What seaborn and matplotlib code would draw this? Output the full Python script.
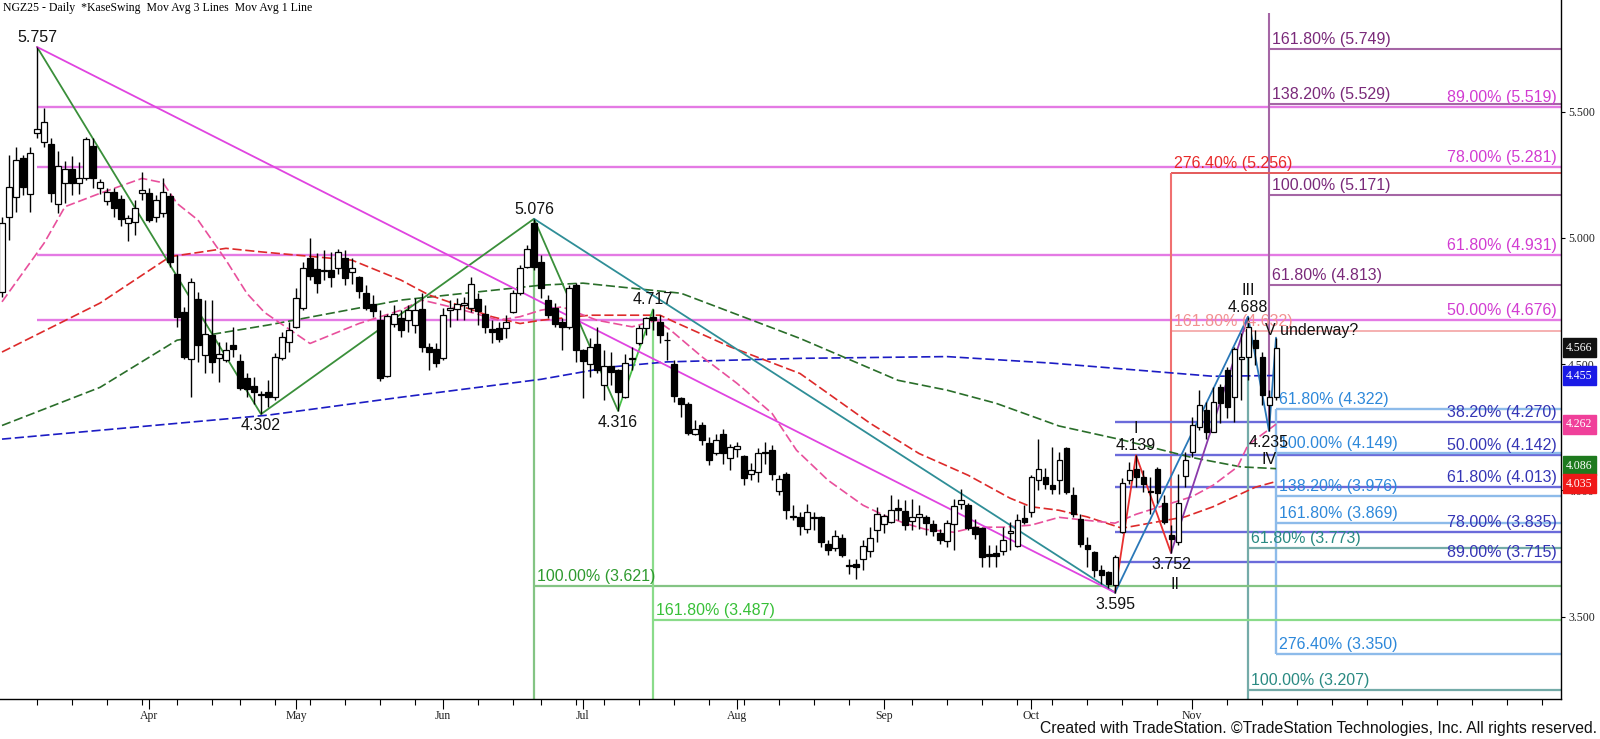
import matplotlib
matplotlib.use("Agg")
import matplotlib.pyplot as plt
import numpy as np
import pandas as pd
import seaborn as sns

# ---------------- data ----------------
SESSION_START = "2025-03-03"
SESSION_END = "2025-11-19"
HOLIDAYS = ["2025-04-18", "2025-05-26", "2025-06-19", "2025-07-04", "2025-09-01"]

opens = [4.787, 5.084, 5.163, 5.315, 5.174, 5.417, 5.382, 5.372, 5.133, 5.216,
         5.272, 5.216, 5.236, 5.364, 5.199, 5.148, 5.181, 5.154, 5.060, 5.064,
         5.179, 5.179, 5.084, 5.097, 5.167, 4.857, 4.707, 4.522, 4.760, 4.538,
         4.615, 4.526, 4.516, 4.575, 4.513, 4.446, 4.414, 4.380, 4.390, 4.371,
         4.523, 4.589, 4.648, 4.721, 4.922, 4.876, 4.873, 4.873, 4.880, 4.919,
         4.866, 4.847, 4.780, 4.738, 4.675, 4.454, 4.659, 4.681, 4.675, 4.655,
         4.718, 4.569, 4.562, 4.523, 4.714, 4.717, 4.734, 4.721, 4.758, 4.699,
         4.639, 4.642, 4.642, 4.708, 4.780, 4.886, 5.058, 4.904, 4.756, 4.721,
         4.668, 4.648, 4.813, 4.555, 4.499, 4.579, 4.417, 4.493, 4.476, 4.370,
         4.520, 4.582, 4.645, 4.688, 4.668, 4.596, 4.499, 4.366, 4.344, 4.225,
         4.258, 4.188, 4.146, 4.225, 4.130, 4.163, 4.135, 4.066, 4.073, 4.152,
         4.159, 3.998, 4.064, 3.898, 3.895, 3.848, 3.891, 3.895, 3.789, 3.773,
         3.813, 3.706, 3.707, 3.729, 3.760, 3.842, 3.868, 3.875, 3.932, 3.917,
         3.878, 3.895, 3.895, 3.868, 3.829, 3.800, 3.868, 3.944, 3.941, 3.855,
         3.851, 3.749, 3.752, 3.760, 3.829, 3.780, 3.891, 3.915, 4.040, 4.053,
         4.023, 4.040, 4.166, 3.981, 3.888, 3.782, 3.756, 3.683, 3.677, 3.624,
         3.835, 4.040, 4.086, 4.051, 3.996, 4.086, 3.951, 3.825, 3.796, 4.057,
         4.152, 4.251, 4.318, 4.232, 4.410, 4.476, 4.370, 4.522, 4.529, 4.595,
         4.528, 4.337, 4.369]
highs = [5.084, 5.329, 5.362, 5.329, 5.362, 5.757, 5.514, 5.395, 5.345, 5.306,
         5.325, 5.302, 5.399, 5.395, 5.234, 5.199, 5.197, 5.170, 5.093, 5.150,
         5.260, 5.197, 5.170, 5.236, 5.177, 4.932, 4.727, 4.840, 4.787, 4.754,
         4.754, 4.589, 4.589, 4.648, 4.542, 4.463, 4.450, 4.392, 4.437, 4.545,
         4.628, 4.668, 4.800, 4.906, 4.999, 4.939, 4.952, 4.946, 4.955, 4.952,
         4.919, 4.850, 4.813, 4.774, 4.714, 4.697, 4.734, 4.714, 4.734, 4.761,
         4.780, 4.582, 4.582, 4.721, 4.754, 4.761, 4.767, 4.847, 4.780, 4.734,
         4.675, 4.668, 4.694, 4.794, 4.893, 4.972, 5.076, 4.932, 4.774, 4.741,
         4.681, 4.813, 4.820, 4.560, 4.602, 4.648, 4.555, 4.549, 4.480, 4.542,
         4.569, 4.655, 4.688, 4.717, 4.694, 4.628, 4.516, 4.370, 4.351, 4.278,
         4.271, 4.212, 4.225, 4.245, 4.185, 4.192, 4.139, 4.109, 4.166, 4.192,
         4.179, 4.060, 4.073, 3.941, 3.915, 3.945, 3.915, 3.900, 3.805, 3.842,
         3.826, 3.729, 3.729, 3.802, 3.855, 3.934, 3.908, 3.981, 3.967, 3.961,
         3.967, 3.941, 3.901, 3.881, 3.848, 3.881, 3.967, 4.007, 3.948, 3.888,
         3.855, 3.782, 3.782, 3.855, 3.875, 3.908, 3.941, 4.060, 4.205, 4.090,
         4.172, 4.152, 4.172, 4.014, 3.908, 3.815, 3.760, 3.703, 3.680, 3.743,
         4.047, 4.113, 4.139, 4.080, 4.053, 4.093, 3.981, 3.862, 4.066, 4.152,
         4.291, 4.397, 4.351, 4.410, 4.423, 4.489, 4.569, 4.622, 4.688, 4.634,
         4.548, 4.397, 4.605]
lows = [4.767, 4.992, 5.104, 5.170, 5.104, 5.395, 5.362, 5.144, 5.097, 5.140,
        5.170, 5.173, 5.228, 5.197, 5.173, 5.130, 5.084, 5.047, 4.988, 5.011,
        5.150, 5.064, 5.064, 5.084, 4.886, 4.648, 4.522, 4.371, 4.509, 4.463,
        4.463, 4.430, 4.509, 4.529, 4.397, 4.371, 4.344, 4.302, 4.331, 4.357,
        4.516, 4.549, 4.642, 4.714, 4.834, 4.783, 4.834, 4.804, 4.856, 4.813,
        4.817, 4.761, 4.714, 4.685, 4.434, 4.450, 4.648, 4.609, 4.628, 4.622,
        4.549, 4.476, 4.490, 4.516, 4.648, 4.675, 4.675, 4.708, 4.655, 4.622,
        4.582, 4.589, 4.602, 4.701, 4.774, 4.880, 4.873, 4.762, 4.681, 4.648,
        4.555, 4.641, 4.509, 4.364, 4.450, 4.463, 4.357, 4.417, 4.316, 4.364,
        4.476, 4.575, 4.615, 4.635, 4.582, 4.516, 4.351, 4.291, 4.218, 4.218,
        4.179, 4.099, 4.139, 4.106, 4.080, 4.133, 4.020, 4.040, 4.033, 4.106,
        4.040, 3.981, 3.888, 3.881, 3.822, 3.831, 3.842, 3.776, 3.743, 3.760,
        3.736, 3.670, 3.650, 3.686, 3.736, 3.796, 3.829, 3.872, 3.881, 3.842,
        3.842, 3.848, 3.822, 3.818, 3.789, 3.776, 3.763, 3.928, 3.842, 3.809,
        3.696, 3.696, 3.696, 3.743, 3.763, 3.776, 3.868, 3.895, 4.000, 4.007,
        3.987, 3.987, 3.987, 3.895, 3.776, 3.696, 3.657, 3.630, 3.615, 3.595,
        3.829, 4.027, 4.014, 3.994, 3.908, 3.948, 3.868, 3.752, 3.782, 4.014,
        4.133, 4.238, 4.205, 4.230, 4.265, 4.285, 4.271, 4.357, 4.436, 4.496,
        4.337, 4.235, 4.357]
closes = [5.058, 5.203, 5.309, 5.203, 5.338, 5.430, 5.458, 5.179, 5.286, 5.272,
          5.219, 5.236, 5.392, 5.239, 5.220, 5.181, 5.120, 5.074, 5.078, 5.117,
          5.190, 5.071, 5.150, 5.183, 4.906, 4.688, 4.529, 4.824, 4.575, 4.618,
          4.509, 4.542, 4.558, 4.562, 4.404, 4.400, 4.390, 4.377, 4.371, 4.527,
          4.609, 4.635, 4.761, 4.880, 4.851, 4.823, 4.869, 4.847, 4.943, 4.840,
          4.880, 4.791, 4.721, 4.712, 4.447, 4.692, 4.699, 4.635, 4.714, 4.714,
          4.569, 4.549, 4.503, 4.694, 4.721, 4.738, 4.741, 4.816, 4.712, 4.648,
          4.626, 4.600, 4.668, 4.780, 4.880, 4.955, 4.886, 4.800, 4.694, 4.661,
          4.648, 4.800, 4.555, 4.513, 4.569, 4.476, 4.493, 4.470, 4.390, 4.503,
          4.525, 4.645, 4.681, 4.674, 4.615, 4.594, 4.373, 4.344, 4.228, 4.245,
          4.199, 4.119, 4.201, 4.146, 4.170, 4.175, 4.047, 4.082, 4.146, 4.146,
          4.066, 4.043, 3.921, 3.896, 3.859, 3.915, 3.895, 3.796, 3.763, 3.818,
          3.743, 3.699, 3.697, 3.778, 3.813, 3.908, 3.897, 3.921, 3.921, 3.862,
          3.895, 3.908, 3.871, 3.838, 3.805, 3.871, 3.937, 3.961, 3.852, 3.826,
          3.736, 3.739, 3.740, 3.805, 3.838, 3.881, 3.875, 4.053, 4.086, 4.027,
          4.007, 4.119, 3.994, 3.908, 3.789, 3.769, 3.683, 3.663, 3.630, 3.736,
          4.030, 4.080, 4.053, 4.027, 3.994, 3.990, 3.875, 3.809, 3.951, 4.119,
          4.258, 4.340, 4.232, 4.351, 4.347, 4.331, 4.562, 4.529, 4.648, 4.563,
          4.377, 4.369, 4.566]

# moving averages (bar index, value)
ma_pink_idx = [0, 6, 9, 14, 20, 23, 25, 28, 32, 35, 37.5, 44, 51, 57, 60, 65, 71, 74, 77, 80,
               85, 90, 93.5, 95.5, 100, 105, 110, 113.5, 118, 123, 126, 129, 132, 136, 139,
               143, 147, 151, 155, 159, 162, 166, 170, 173, 176.5, 178, 182]
ma_pink_val = [4.747, 4.979, 5.124, 5.177, 5.236, 5.219, 5.137, 5.071, 4.912, 4.780, 4.705,
               4.582, 4.661, 4.714, 4.754, 4.721, 4.674, 4.688, 4.714, 4.727, 4.674, 4.648,
               4.674, 4.635, 4.529, 4.424, 4.305, 4.159, 4.040, 3.941, 3.901, 3.869, 3.845,
               3.834, 3.854, 3.854, 3.862, 3.893, 3.881, 3.870, 3.905, 3.940, 3.975, 4.020,
               4.093, 4.180, 4.262]
ma_red_idx = [0, 14, 24, 32, 37, 50, 57, 61, 70, 74, 77, 84, 94, 96, 104, 114, 124, 131, 138,
              144, 147, 151, 155, 160, 165, 169, 173, 179, 182]
ma_red_val = [4.548, 4.742, 4.926, 4.959, 4.945, 4.912, 4.833, 4.774, 4.688, 4.661, 4.674,
              4.694, 4.694, 4.668, 4.569, 4.463, 4.266, 4.146, 4.060, 3.969, 3.935, 3.921,
              3.895, 3.850, 3.875, 3.895, 3.935, 4.012, 4.035]
ma_green_idx = [0, 14, 25, 38, 57, 77, 83, 97, 114, 128, 135, 142, 151, 160, 170, 177, 182]
ma_green_val = [4.257, 4.408, 4.595, 4.655, 4.754, 4.813, 4.821, 4.781, 4.602, 4.436, 4.397,
                4.345, 4.255, 4.200, 4.130, 4.093, 4.086]
ma_blue_idx = [0, 14, 38, 57, 77, 87, 95, 114, 135, 150, 165, 173, 182]
ma_blue_val = [4.203, 4.238, 4.298, 4.369, 4.440, 4.489, 4.509, 4.523, 4.530, 4.504, 4.470,
               4.452, 4.455]

# swing pivots
pivot_idx = [5, 37, 76, 88, 93, 159, 162, 167, 178, 181]
pivot_val = [5.757, 4.302, 5.076, 4.316, 4.717, 3.595, 4.139, 3.752, 4.688, 4.235]
pivot_side = ["up", "dn", "up", "dn", "up", "dn", "up", "dn", "up", "dn"]
wave_idx = [162, 167, 178, 181]
wave_names = ["I", "II", "III", "IV"]

# fib level groups
mag_pcts = ["89.00%", "78.00%", "61.80%", "50.00%"]
mag_levels = [5.519, 5.281, 4.931, 4.676]
pur_pcts = ["161.80%", "138.20%", "100.00%", "61.80%"]
pur_levels = [5.749, 5.529, 5.171, 4.813]
red_pcts = ["276.40%", "161.80%"]
red_levels = [5.256, 4.632]
lb_pcts = ["61.80%", "100.00%", "138.20%", "161.80%", "276.40%"]
lb_levels = [4.322, 4.149, 3.976, 3.869, 3.350]
sb_pcts = ["38.20%", "50.00%", "61.80%", "78.00%", "89.00%"]
sb_levels = [4.270, 4.142, 4.013, 3.835, 3.715]
teal_pcts = ["61.80%", "100.00%"]
teal_levels = [3.773, 3.207]
grn_pcts = ["100.00%", "161.80%"]
grn_levels = [3.621, 3.487]

tag_vals = [4.566, 4.455, 4.262, 4.086, 4.035]
tag_colors = ["#111111", "#1A1AE6", "#F0409A", "#1E7A1E", "#F01818"]
tag_nudge = [0, 0, 0, 3, -2]

y_ticks = [3.5, 4.0, 4.5, 5.0, 5.5]

# ---------------- figure ----------------
sns.set_theme(style="white")
plt.rcParams["font.family"] = ["Liberation Sans", "DejaVu Sans"]
SERIF = ["Liberation Serif", "DejaVu Serif"]

W, H = 1600, 739
fig = plt.figure(figsize=(W / 100, H / 100), dpi=100)
ax_bottom_px = 699.3
ax_right_px = 1561
ax = fig.add_axes([0, 1 - ax_bottom_px / H, ax_right_px / W, ax_bottom_px / H])
ax.set_facecolor("white")

XMIN, XMAX = -0.286, 222.71
YMIN, YMAX = 3.172, 5.943
ax.set_xlim(XMIN, XMAX)
ax.set_ylim(YMIN, YMAX)

o = np.array(opens); h = np.array(highs); l = np.array(lows); c = np.array(closes)
n = len(c)
bars = np.arange(n)

# ---- straight fib lines / verticals (behind candles) ----
def hline(x0, y, color, lw=1.6, x1=XMAX):
    ax.plot([x0, x1], [y, y], color=color, lw=lw, zorder=1, solid_capstyle="butt")

def vline(x, y0, y1, color, lw=1.6):
    ax.plot([x, x], [y0, y1], color=color, lw=lw, zorder=1, solid_capstyle="butt")

for lv in mag_levels:
    hline(pivot_idx[0], lv, "#E47AE4", 1.7)
for lv in pur_levels:
    hline(181, lv, "#A566A5", 1.5)
vline(181, 4.235, 5.892, "#A566A5", 1.5)
hline(167, red_levels[0], "#E45A5A", 1.4)
hline(167, red_levels[1], "#F5B0B0", 1.4)
vline(167, 3.752, 5.256, "#F07070", 1.5)
for lv in sb_levels:
    hline(159, lv, "#6B6BDA", 1.7)
for lv in lb_levels:
    hline(182, lv, "#8DBBEA", 1.7)
vline(182, 3.350, 4.322, "#8DBBEA", 1.7)
for lv in teal_levels:
    hline(178, lv, "#74ABA8", 1.6)
vline(178, YMIN, 4.688, "#74ABA8", 1.6)
hline(76, grn_levels[0], "#84C484", 1.6)
vline(76, YMIN, 5.076, "#84C484", 1.6)
hline(93, grn_levels[1], "#8ADB8A", 1.6)
vline(93, YMIN, 4.717, "#8ADB8A", 1.6)

# ---- moving averages (seaborn) ----
dash = (0, (5.5, 2.2))
for xi, yi, col in [(ma_blue_idx, ma_blue_val, "#1C1CC4"),
                    (ma_green_idx, ma_green_val, "#2A6E2A"),
                    (ma_red_idx, ma_red_val, "#DD2A2A"),
                    (ma_pink_idx, ma_pink_val, "#E8509C")]:
    sns.lineplot(x=xi, y=yi, ax=ax, color=col, lw=1.2, linestyle=dash, zorder=2,
                 sort=False, estimator=None)

# ---- swing / wave lines (seaborn) ----
swing_lines = [
    ([5, 37, 76, 88], [5.757, 4.302, 5.076, 4.316], "#3A8F3A"),
    ([88, 93], [4.316, 4.717], "#49C049"),
    ([76, 159], [5.076, 3.595], "#2F8E97"),
    ([5, 159], [5.757, 3.595], "#E044E0"),
    ([159, 162, 167], [3.595, 4.139, 3.752], "#E83030"),
    ([167, 178], [3.752, 4.688], "#8A3AAA"),
    ([159, 178, 181, 182], [3.595, 4.688, 4.235, 4.605], "#2A78B8"),
]
for xi, yi, col in swing_lines:
    sns.lineplot(x=xi, y=yi, ax=ax, color=col, lw=1.3, zorder=2, sort=False, estimator=None)

# ---- candles ----
ax.vlines(bars, l, h, color="black", lw=1.0, zorder=3)
up = c >= o
body_lo = np.minimum(o, c)
body_h = np.maximum(np.abs(c - o), 0.003)
ax.bar(bars[up], body_h[up], bottom=body_lo[up], width=0.72, color="white",
       edgecolor="black", linewidth=0.9, zorder=4)
ax.bar(bars[~up], body_h[~up], bottom=body_lo[~up], width=0.72, color="black",
       edgecolor="black", linewidth=0.9, zorder=4)

# ---- labels ----
FS = 11.5

def lab_left(x, y, txt, color):
    ax.annotate(txt, xy=(x, y), xytext=(3, 2), textcoords="offset pixels",
                ha="left", va="bottom", fontsize=FS, color=color, zorder=6)

def lab_right(y, txt, color):
    ax.annotate(txt, xy=(XMAX, y), xytext=(-4, 2), textcoords="offset pixels",
                ha="right", va="bottom", fontsize=FS, color=color, zorder=6)

for p, lv in zip(mag_pcts, mag_levels):
    lab_right(lv, f"{p} ({lv:.3f})", "#D23CD2")
for p, lv in zip(sb_pcts, sb_levels):
    lab_right(lv, f"{p} ({lv:.3f})", "#3535B5")
for p, lv in zip(pur_pcts, pur_levels):
    lab_left(181, lv, f"{p} ({lv:.3f})", "#7A2A7A")
lab_left(167, red_levels[0], f"{red_pcts[0]} ({red_levels[0]:.3f})", "#E82828")
lab_left(167, red_levels[1], f"{red_pcts[1]} ({red_levels[1]:.3f})", "#F29090")
for p, lv in zip(lb_pcts, lb_levels):
    lab_left(182, lv, f"{p} ({lv:.3f})", "#2D88DA")
for p, lv in zip(teal_pcts, teal_levels):
    lab_left(178, lv, f"{p} ({lv:.3f})", "#2A8A82")
lab_left(76, grn_levels[0], f"{grn_pcts[0]} ({grn_levels[0]:.3f})", "#2E9A2E")
lab_left(93, grn_levels[1], f"{grn_pcts[1]} ({grn_levels[1]:.3f})", "#38C038")

for xi, yv, side in zip(pivot_idx, pivot_val, pivot_side):
    if side == "up":
        ax.annotate(f"{yv:.3f}", xy=(xi, yv), xytext=(0, 2), textcoords="offset pixels",
                    ha="center", va="bottom", fontsize=FS, color="#111111", zorder=6)
    else:
        ax.annotate(f"{yv:.3f}", xy=(xi, yv), xytext=(0, -4), textcoords="offset pixels",
                    ha="center", va="top", fontsize=FS, color="#111111", zorder=6)

wave_off = {"I": (0, 19), "II": (4, -24), "III": (0, 19), "IV": (0, -21)}
for xi, nm in zip(wave_idx, wave_names):
    yv = pivot_val[pivot_idx.index(xi)]
    dx, dy = wave_off[nm]
    ax.annotate(nm, xy=(xi, yv), xytext=(dx, dy), textcoords="offset pixels",
                ha="center", va="bottom" if dy > 0 else "top", fontsize=FS,
                color="#111111", zorder=6)
ax.annotate("V underway?", xy=(180.4, 4.603), xytext=(0, 0), textcoords="offset pixels",
            ha="left", va="bottom", fontsize=FS, color="#111111", zorder=6)

# ---- axes styling ----
for s in ["left", "top"]:
    ax.spines[s].set_visible(False)
for s in ["right", "bottom"]:
    ax.spines[s].set_visible(True)
    ax.spines[s].set_color("black")
    ax.spines[s].set_linewidth(1.0)
ax.grid(False)
ax.set_xlabel("")
ax.set_ylabel("")

ax.yaxis.tick_right()
ax.set_yticks(y_ticks)
ax.set_yticklabels([f"{v:.3f}" for v in y_ticks], fontfamily=SERIF, fontsize=8.5)
ax.tick_params(axis="y", direction="out", length=3, width=0.8, color="black", pad=2,
               labelcolor="#222222", left=False, right=True)

dates = pd.bdate_range(SESSION_START, SESSION_END)
dates = dates[~dates.isin(pd.to_datetime(HOLIDAYS))]
ds = pd.Series(dates)
month_first = np.where(ds.dt.month.diff().fillna(1).ne(0).values)[0]
month_first = [m for m in month_first if m > 0]
week_first = [i for i in range(1, n) if dates[i].weekday() < dates[i - 1].weekday()]
future_weeks = list(range(week_first[-1] + 5, int(XMAX), 5))
minor = sorted(set(week_first + future_weeks) - set(month_first))
ax.set_xticks(month_first)
ax.set_xticklabels([dates[i].strftime("%b") for i in month_first], fontfamily=SERIF,
                   fontsize=8.5)
ax.set_xticks(minor, minor=True)
ax.tick_params(axis="x", which="major", direction="out", length=7, width=0.8,
               color="black", pad=1, labelcolor="#222222", bottom=True)
ax.tick_params(axis="x", which="minor", direction="out", length=4, width=0.8,
               color="black", bottom=True)

# price tags on the right axis
for v, col, nd in zip(tag_vals, tag_colors, tag_nudge):
    ax.annotate(f"{v:.3f}", xy=(1.0, v), xycoords=("axes fraction", "data"),
                xytext=(5, nd), textcoords="offset pixels", ha="left", va="center",
                fontsize=8.5, fontfamily=SERIF, color="white", zorder=8,
                annotation_clip=False,
                bbox=dict(boxstyle="square,pad=0.28", fc=col, ec=col))

fig.text(3 / W, 1 - 8 / H, "NGZ25 - Daily  *KaseSwing  Mov Avg 3 Lines  Mov Avg 1 Line",
         fontfamily=SERIF, fontsize=8.5, ha="left", va="center", color="black")
fig.text(1597 / W, 1 - 729 / H,
         "Created with TradeStation. \u00a9TradeStation Technologies, Inc. All rights reserved.",
         fontsize=11.3, ha="right", va="center", color="#111111")

fig.savefig("out.png", dpi=100, facecolor="white")
